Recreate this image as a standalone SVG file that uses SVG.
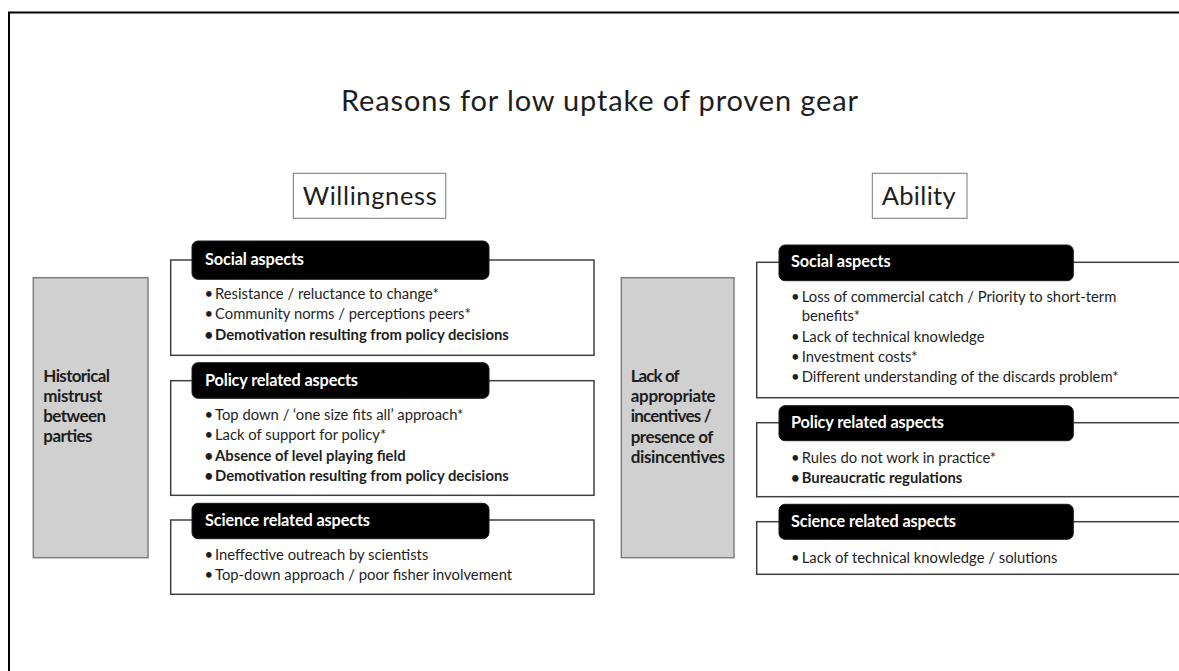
<svg xmlns="http://www.w3.org/2000/svg" width="1179" height="671" viewBox="0 0 1179 671">
<style>
text{font-family:Lato,"Open Sans","Liberation Sans",sans-serif;fill:#1e1e1e}
.title{font-size:29px}
.lbl{font-size:25.5px}
.hdr{font-size:16.3px;font-weight:bold;fill:#fff}
.it{font-size:14.8px}
.b{font-weight:bold}
.gt{font-size:17px;font-weight:bold}
.box{fill:#fff;stroke:#404040;stroke-width:1.5}
.hbox{fill:#000;stroke:#1a1a1a;stroke-width:1}
.gray{fill:#d0d0d0;stroke:#7f7f7f;stroke-width:1.5}
.lb{fill:#fff;stroke:#777;stroke-width:1}
</style>
<rect x="0" y="0" width="1179" height="671" fill="#fff"/>
<rect x="9" y="12.5" width="1200" height="700" fill="none" stroke="#000" stroke-width="2"/>
<text class="title" x="341" y="111" textLength="517">Reasons for low uptake of proven gear</text>

<g id="willingness">
<rect class="lb" x="293.3" y="173.3" width="152.5" height="45"/>
<text class="lbl" x="302.7" y="205" textLength="134">Willingness</text>
</g>
<g id="ability">
<rect class="lb" x="872.3" y="173.3" width="94.7" height="45"/>
<text class="lbl" x="881.7" y="205" textLength="74">Ability</text>
</g>

<g id="historical-mistrust">
<rect class="gray" x="33.3" y="277.7" width="114.7" height="280"/>
<text class="gt" x="43.3" y="381.7" textLength="66.7">Historical</text>
<text class="gt" x="43.3" y="401.7" textLength="59">mistrust</text>
<text class="gt" x="43.3" y="421.7" textLength="62.7">between</text>
<text class="gt" x="43.3" y="441.7" textLength="49.3">parties</text>
</g>

<g id="w-social">
<rect class="box" x="170.7" y="260" width="423.3" height="95.3"/>
<rect class="hbox" x="192" y="241" width="297" height="38.3" rx="6"/>
<text class="hdr" x="205" y="265" textLength="99">Social aspects</text>
<text class="it" x="204.5" y="299">•</text><text class="it" x="215" y="299">Resistance / reluctance to change*</text>
<text class="it" x="204.5" y="319.3">•</text><text class="it" x="215" y="319.3">Community norms / perceptions peers*</text>
<text class="it b" x="204.5" y="340">•</text><text class="it b" x="215" y="340">Demotivation resulting from policy decisions</text>
</g>

<g id="w-policy">
<rect class="box" x="170.7" y="380.7" width="423.3" height="114.6"/>
<rect class="hbox" x="192" y="362.7" width="297" height="35.6" rx="6"/>
<text class="hdr" x="205" y="386" textLength="153">Policy related aspects</text>
<text class="it" x="204.5" y="420">•</text><text class="it" x="215" y="420">Top down / ‘one size fits all’ approach*</text>
<text class="it" x="204.5" y="440">•</text><text class="it" x="215" y="440">Lack of support for policy*</text>
<text class="it b" x="204.5" y="460.7">•</text><text class="it b" x="215" y="460.7">Absence of level playing field</text>
<text class="it b" x="204.5" y="481">•</text><text class="it b" x="215" y="481">Demotivation resulting from policy decisions</text>
</g>

<g id="w-science">
<rect class="box" x="170.7" y="520" width="423.3" height="74.3"/>
<rect class="hbox" x="192" y="503.3" width="297" height="35.4" rx="6"/>
<text class="hdr" x="205" y="525.7" textLength="165">Science related aspects</text>
<text class="it" x="204.5" y="560">•</text><text class="it" x="215" y="560">Ineffective outreach by scientists</text>
<text class="it" x="204.5" y="580">•</text><text class="it" x="215" y="580">Top-down approach / poor fisher involvement</text>
</g>

<g id="lack-incentives">
<rect class="gray" x="621.3" y="277.7" width="112.7" height="280"/>
<text class="gt" x="630.7" y="381.7" textLength="49">Lack of</text>
<text class="gt" x="630.7" y="402" textLength="85">appropriate</text>
<text class="gt" x="630.7" y="422.3" textLength="81">incentives /</text>
<text class="gt" x="630.7" y="442.7" textLength="82.7">presence of</text>
<text class="gt" x="630.7" y="463.2" textLength="94.3">disincentives</text>
</g>

<g id="a-social">
<rect class="box" x="756.7" y="262.3" width="430" height="135.4"/>
<rect class="hbox" x="779" y="245" width="294.3" height="35.7" rx="6"/>
<text class="hdr" x="791" y="266.7" textLength="99.7">Social aspects</text>
<text class="it" x="791" y="301.7">•</text><text class="it" x="801.7" y="301.7">Loss of commercial catch / Priority to short-term</text>
<text class="it" x="801.7" y="320.7">benefits*</text>
<text class="it" x="791" y="341.7">•</text><text class="it" x="801.7" y="341.7">Lack of technical knowledge</text>
<text class="it" x="791" y="361.7">•</text><text class="it" x="801.7" y="361.7">Investment costs*</text>
<text class="it" x="791" y="381.7">•</text><text class="it" x="801.7" y="381.7">Different understanding of the discards problem*</text>
</g>

<g id="a-policy">
<rect class="box" x="756.7" y="422.7" width="430" height="74"/>
<rect class="hbox" x="779" y="405.7" width="294.3" height="35" rx="6"/>
<text class="hdr" x="791" y="427.7" textLength="153">Policy related aspects</text>
<text class="it" x="791" y="462.7">•</text><text class="it" x="801.7" y="462.7">Rules do not work in practice*</text>
<text class="it b" x="791" y="482.7">•</text><text class="it b" x="801.7" y="482.7">Bureaucratic regulations</text>
</g>

<g id="a-science">
<rect class="box" x="756.7" y="521.7" width="430" height="52.6"/>
<rect class="hbox" x="779" y="504.3" width="294.3" height="35" rx="6"/>
<text class="hdr" x="791" y="526.7" textLength="165">Science related aspects</text>
<text class="it" x="791" y="562.7">•</text><text class="it" x="801.7" y="562.7">Lack of technical knowledge / solutions</text>
</g>

<g id="connectors"></g>
</svg>
